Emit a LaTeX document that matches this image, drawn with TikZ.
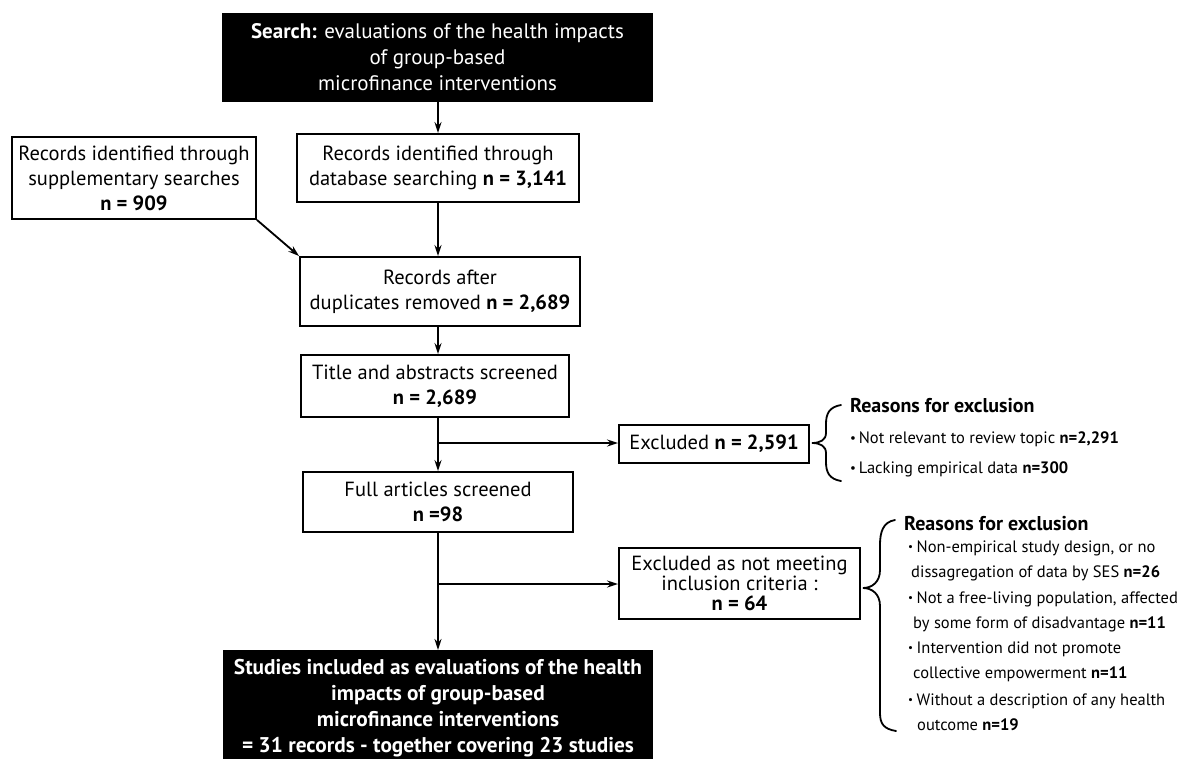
\documentclass[tikz,border=0pt]{standalone}
\usepackage{fontspec}
\setmainfont{PT Sans}
\usetikzlibrary{arrows.meta,calc}
\begin{document}
\begin{tikzpicture}[x=1pt,y=-1pt,
  box/.style={draw=black,line width=1.9pt,fill=white,align=center,inner sep=0pt,
    font=\fontsize{20.5}{25}\selectfont},
  darkbox/.style={fill=black,text=white,align=center,inner sep=0pt,
    font=\fontsize{21}{26}\selectfont},
  arr/.style={line width=1.8pt,-{Stealth[length=11pt,width=7pt]}},
  brc/.style={line width=1.8pt,line cap=round},
  head/.style={anchor=base west,inner sep=0pt,font=\fontsize{20}{24}\selectfont\bfseries},
  reason/.style={anchor=base west,inner sep=0pt,align=left,font=\fontsize{16.5}{25}\selectfont}
]
\useasboundingbox (0,0) rectangle (1181,758);
\fill[white] (0,0) rectangle (1181,758);
\newcommand{\bigdot}{{\fontsize{13}{13}\selectfont\raisebox{0.5pt}{•}}\,}
\newcommand{\smalldot}{{\fontsize{11}{11}\selectfont\raisebox{1.5pt}{•}}\hspace{3.5pt}}

% main column
\node[darkbox,minimum width=431,minimum height=89] (top) at (437.5,57.5)
  {\textbf{Search:} evaluations of the health impacts\\of group-based\\microfinance interventions};
\node[box,minimum width=282,minimum height=68] (db) at (438,168)
  {Records identified through\\database searching \textbf{n = 3,141}};
\node[box,minimum width=244,minimum height=82] (supp) at (134,178)
  {Records identified through\\supplementary searches\\\textbf{n = 909}};
\node[box,minimum width=280,minimum height=69] (dedup) at (440,291.5)
  {Records after\\duplicates removed \textbf{n = 2,689}};
\node[box,minimum width=268,minimum height=62] (title) at (435,386)
  {Title and abstracts screened\\\textbf{n = 2,689}};
\node[box,minimum width=270,minimum height=60] (full) at (438,502)
  {Full articles screened\\\textbf{n =98}};
\node[box,minimum width=190,minimum height=38] (exc1) at (714,444)
  {Excluded \textbf{n = 2,591}};
\node[box,minimum width=241,minimum height=71,font=\fontsize{20.5}{20}\selectfont] (exc2) at (739.5,583.5)
  {Excluded as not meeting\\inclusion criteria :\\\textbf{n = 64}};
\node[darkbox,font=\fontsize{21.3}{26}\selectfont\bfseries,anchor=north,
  minimum width=430,inner ysep=9pt] (final) at (438,650)
  {Studies included as evaluations of the health\\impacts of group-based\\microfinance interventions\\= 31 records - together covering 23 studies};

% connectors
\draw[arr] (top.south -| 438,0) -- (db.north -| 438,0);
\draw[arr] (db.south -| 438,0) -- (dedup.north -| 438,0);
\draw[arr] (supp.south east) -- (dedup.north west);
\draw[arr] (dedup.south -| 438,0) -- (title.north -| 438,0);
\draw[arr] (title.south -| 438,0) -- (full.north -| 438,0);
\coordinate (b1) at (438,443);
\draw[arr] (b1) -- (b1 -| exc1.west);
\draw[arr] (full.south -| 438,0) -- (final.north -| 438,0);
\coordinate (b2) at (438,584);
\draw[arr] (b2) -- (b2 -| exc2.west);

% exclusion reasons after screening titles and abstracts
\coordinate (t1) at (812,443);
\draw[brc] (841,405) .. controls (829,407) and (826,414) .. (826,424) -- (826,433)
  .. controls (826,440) and (820,443) .. (t1)
  .. controls (820,443) and (826,446) .. (826,453) -- (826,462)
  .. controls (826,472) and (829,479) .. (841,481);
\node[head] (h1) at (850,412) {Reasons for exclusion};
\node[reason] (l1) at (850,443) {\bigdot Not relevant to review topic \textbf{n=2,291}};
\node[reason] (l2) at (850,473) {\bigdot Lacking empirical data \textbf{n=300}};

% exclusion reasons after screening full articles (anchored at the last line)
\coordinate (t2) at (863,588);
\draw[brc] (895,520) .. controls (883,522) and (880,532) .. (880,545) -- (880,570)
  .. controls (880,582) and (872,588) .. (t2)
  .. controls (872,588) and (880,594) .. (880,606) -- (880,713)
  .. controls (880,724) and (884,729) .. (896,731);
\node[head] (h2) at (904,530) {Reasons for exclusion};
\node[reason] (m1) at (908,577) {\smalldot Non-empirical study design, or no\\\hspace*{3pt}dissagregation of data by SES \textbf{n=26}};
\node[reason] (m2) at (908,628) {\smalldot Not a free-living population, affected\\\hspace*{5pt}by some form of disadvantage \textbf{n=11}};
\node[reason] (m3) at (908,678) {\smalldot Intervention did not promote\\\hspace*{5pt}collective empowerment \textbf{n=11}};
\node[reason] (m4) at (908,730) {\smalldot Without a description of any health\\\hspace*{9pt}outcome \textbf{n=19}};
\end{tikzpicture}
\end{document}
